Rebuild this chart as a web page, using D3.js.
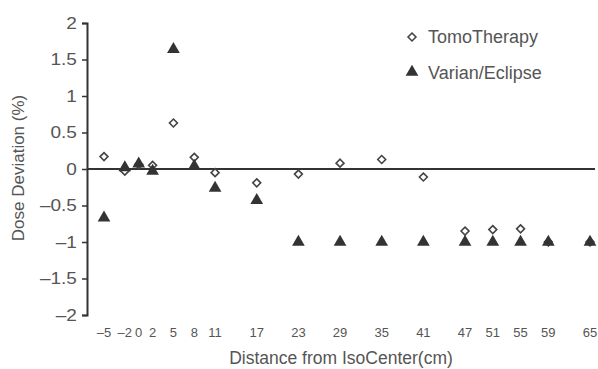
<!DOCTYPE html>
<html>
<head>
    <script src="https://d3js.org/d3.v7.min.js"></script>
    <style>
        body { margin: 0; background: #fff; }
        svg text { font-family: "Liberation Sans", Arial, sans-serif; fill: #555; }
    </style>
</head>
<body>
    <div id="chart"></div>
    <script>
        // data
        const distances = [-5, -2, 0, 2, 5, 8, 11, 17, 23, 29, 35, 41, 47, 51, 55, 59, 65];
        const tomo = [0.17, -0.03, 0.06, 0.05, 0.63, 0.16, -0.05, -0.19, -0.07, 0.08, 0.13, -0.11, -0.85, -0.83, -0.82, -1.0, -1.0];
        const varian = [-0.67, 0.02, 0.07, -0.03, 1.64, 0.04, -0.26, -0.43, -1.0, -1.0, -1.0, -1.0, -1.0, -1.0, -1.0, -1.0, -1.0];
        const yTicks = [2, 1.5, 1, 0.5, 0, -0.5, -1, -1.5, -2];

        const width = 598, height = 369;
        const svg = d3.select("#chart").append("svg")
            .attr("width", width)
            .attr("height", height);

        const x = d3.scaleLinear().domain([-5, 65]).range([104, 590]);
        const y = d3.scaleLinear().domain([-2, 2]).range([315, 23]);
        const fmt = d => (d < 0 ? "\u2013" : "") + Math.abs(d);

        // y axis
        const yAxis = svg.append("g")
            .attr("transform", "translate(87,0)")
            .call(d3.axisLeft(y).tickValues(yTicks).tickSize(5).tickPadding(4).tickFormat(fmt));
        yAxis.select(".domain").attr("stroke", "#333").attr("stroke-width", 2);
        yAxis.selectAll(".tick line").attr("stroke", "#333").attr("stroke-width", 1.5);
        yAxis.selectAll("text").style("font-size", "17px").attr("fill", "#555")
            .attr("transform", "scale(1.12,1)");

        // zero line
        svg.append("line")
            .attr("x1", 87).attr("x2", 595)
            .attr("y1", y(0)).attr("y2", y(0))
            .attr("stroke", "#333").attr("stroke-width", 2);

        // x tick labels (no axis line)
        svg.append("g").selectAll("text")
            .data(distances)
            .join("text")
            .attr("x", d => x(d))
            .attr("y", 337)
            .attr("text-anchor", "middle")
            .style("font-size", "13px")
            .text(fmt);

        // TomoTherapy diamonds
        const diamond = d3.symbol().type(d3.symbolDiamond2).size(40);
        svg.append("g").selectAll("path")
            .data(distances.map((d, i) => [d, tomo[i]]))
            .join("path")
            .attr("d", diamond)
            .attr("transform", d => `translate(${x(d[0])},${y(d[1])})`)
            .attr("fill", "#fff")
            .attr("stroke", "#444")
            .attr("stroke-width", 1.6);

        // Varian triangles
        const tri = d3.symbol().type(d3.symbolTriangle).size(70);
        svg.append("g").selectAll("path")
            .data(distances.map((d, i) => [d, varian[i]]))
            .join("path")
            .attr("d", tri)
            .attr("transform", d => `translate(${x(d[0])},${y(d[1])})`)
            .attr("fill", "#333");

        // legend
        svg.append("path").attr("d", diamond)
            .attr("transform", "translate(412,37)")
            .attr("fill", "#fff").attr("stroke", "#444").attr("stroke-width", 1.6);
        svg.append("text").attr("x", 428).attr("y", 43)
            .style("font-size", "18px").text("TomoTherapy");
        svg.append("path").attr("d", tri)
            .attr("transform", "translate(412,72)")
            .attr("fill", "#333");
        svg.append("text").attr("x", 428).attr("y", 79)
            .style("font-size", "18px").text("Varian/Eclipse");

        // axis titles
        svg.append("text")
            .attr("x", 341).attr("y", 364)
            .attr("text-anchor", "middle")
            .style("font-size", "17.5px")
            .text("Distance from IsoCenter(cm)");
        svg.append("text")
            .attr("transform", "rotate(-90)")
            .attr("x", -168).attr("y", 24)
            .attr("text-anchor", "middle")
            .style("font-size", "17px")
            .text("Dose Deviation (%)");
    </script>
</body>
</html>
